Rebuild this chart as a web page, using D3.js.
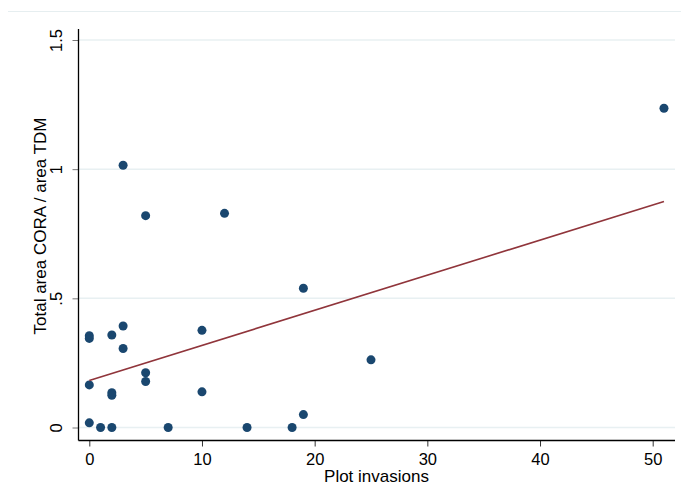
<!DOCTYPE html>
<html>
<head>
<meta charset="utf-8">
<script src="https://cdn.jsdelivr.net/npm/d3@7"></script>
<style>
	body { margin: 0; background: #fff; }
	text { font-family: "Liberation Sans", Arial, sans-serif; fill: #000; }
</style>
</head>
<body>
<div id="chart"></div>
<script>
// values
const invasions = [0, 0, 0, 0, 1, 2, 2, 2, 2, 3, 3, 3, 5, 5, 5, 7, 10, 10, 12, 14, 18, 19, 19, 25, 51];
const areaRatio = [0.355, 0.345, 0.165, 0.018, 0, 0, 0.358, 0.135, 0.125, 0.393, 0.306, 1.015, 0.212, 0.178, 0.82, 0, 0.376, 0.138, 0.829, 0, 0, 0.05, 0.539, 0.262, 1.236];
const fitX = [0, 51];
const fitY = [0.182, 0.875];
const xTicks = [0, 10, 20, 30, 40, 50];
const yTicks = [0, 0.5, 1, 1.5];
const yTickLabels = ["0", ".5", "1", "1.5"];

const width = 681, height = 500;
const tickFont = "16.5px", titleFont = "17px";
const svg = d3.select("#chart").append("svg")
	.attr("width", width)
	.attr("height", height);

// faint frame line at the top
svg.append("line")
	.attr("x1", 8).attr("x2", width)
	.attr("y1", 11.5).attr("y2", 11.5)
	.attr("stroke", "#e6eef0").attr("stroke-width", 1);

const x = d3.scaleLinear().domain([0, 50]).range([89.3, 652.7]);
const y = d3.scaleLinear().domain([0, 1.5]).range([427.5, 40]);

const axisLeft = 78.5, axisBottom = 440.5;

// grid
svg.append("g").selectAll("line")
	.data(yTicks).enter()
	.append("line")
	.attr("x1", axisLeft).attr("x2", 675)
	.attr("y1", d => y(d)).attr("y2", d => y(d))
	.attr("stroke", "#e8f0f2").attr("stroke-width", 1.5);

// y axis
const gy = svg.append("g")
	.attr("transform", "translate(" + axisLeft + ",0)")
	.call(d3.axisLeft(y).tickValues(yTicks).tickSize(6)
		.tickFormat((d, i) => yTickLabels[i]));
gy.select(".domain").remove();
gy.selectAll(".tick line").attr("stroke", "#777");
gy.selectAll(".tick text")
	.attr("x", 0).attr("y", 0)
	.attr("text-anchor", "middle")
	.attr("dy", "0.35em")
	.attr("transform", "translate(-22,0) rotate(-90)")
	.style("font-size", tickFont);
svg.append("line")
	.attr("x1", axisLeft).attr("x2", axisLeft)
	.attr("y1", 29).attr("y2", axisBottom)
	.attr("stroke", "#000").attr("stroke-width", 1.3);

// x axis
const gx = svg.append("g")
	.attr("transform", "translate(0," + axisBottom + ")")
	.call(d3.axisBottom(x).tickValues(xTicks).tickSize(6).tickPadding(7));
gx.select(".domain").remove();
gx.selectAll(".tick line").attr("stroke", "#333");
gx.selectAll(".tick text").style("font-size", tickFont);
svg.append("line")
	.attr("x1", axisLeft).attr("x2", 675)
	.attr("y1", axisBottom).attr("y2", axisBottom)
	.attr("stroke", "#000").attr("stroke-width", 1.3);

// axis titles
svg.append("text")
	.attr("x", 376.5).attr("y", 482)
	.attr("text-anchor", "middle")
	.style("font-size", titleFont)
	.text("Plot invasions");
svg.append("text")
	.attr("transform", "translate(46,226) rotate(-90)")
	.attr("text-anchor", "middle")
	.style("font-size", titleFont)
	.text("Total area CORA / area TDM");

// points
const pts = invasions.map((v, i) => [v, areaRatio[i]]);
svg.append("g").selectAll("circle")
	.data(pts).enter()
	.append("circle")
	.attr("cx", d => x(d[0]))
	.attr("cy", d => y(d[1]))
	.attr("r", 4.5)
	.attr("fill", "#1a476f");

// fitted line
svg.append("path")
	.datum(fitX.map((v, i) => [v, fitY[i]]))
	.attr("d", d3.line().x(d => x(d[0])).y(d => y(d[1])))
	.attr("fill", "none")
	.attr("stroke", "#90353b")
	.attr("stroke-width", 1.6);
</script>
</body>
</html>
